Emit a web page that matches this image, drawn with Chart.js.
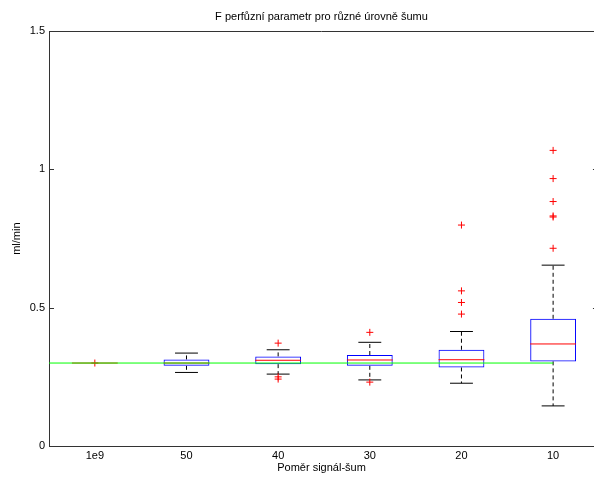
<!DOCTYPE html>
<html>
<head>
<meta charset="utf-8">
<script src="https://cdn.jsdelivr.net/npm/chart.js@4/dist/chart.umd.min.js"></script>
<style>
  html, body { margin: 0; padding: 0; background: #fff; }
  #wrap { width: 594px; height: 477px; }
</style>
</head>
<body>
<div id="wrap"><canvas id="box-chart"></canvas></div>
<script>
const categories = ['1e9', '50', '40', '30', '20', '10'];

const lowerWhisker = [0.300, 0.266, 0.260, 0.239, 0.227, 0.145];
const q1Values     = [0.300, 0.290, 0.296, 0.290, 0.284, 0.306];
const medians      = [0.300, 0.300, 0.310, 0.311, 0.312, 0.369];
const q3Values     = [0.300, 0.313, 0.324, 0.329, 0.348, 0.460];
const upperWhisker = [0.300, 0.336, 0.348, 0.375, 0.414, 0.654];
const outliers = [
    [0.300],
    [],
    [0.372, 0.250, 0.242],
    [0.411, 0.231],
    [0.799, 0.561, 0.519, 0.477],
    [1.069, 0.967, 0.884, 0.832, 0.828, 0.715]
];
const referenceValue = 0.3;
const yTicks = [0, 0.5, 1, 1.5];

Chart.defaults.font.family = '"Liberation Sans", Arial, sans-serif';
Chart.defaults.font.size = 11;
Chart.defaults.color = '#000';

const halfBox = 0.25;
const halfCap = 0.125;

// build datasets from the arrays
let boxData = categories.map((c, i) => ({ x: i + 1, y: [q1Values[i], q3Values[i]] }));

let whiskerData = [];
let capData = [];
let medianData = [];
let outlierData = [];
categories.forEach((c, i) => {
    let x = i + 1;
    if (upperWhisker[i] !== q3Values[i]) {
        whiskerData.push({ x: x, y: q3Values[i] }, { x: x, y: upperWhisker[i] }, { x: x, y: null });
        whiskerData.push({ x: x, y: q1Values[i] }, { x: x, y: lowerWhisker[i] }, { x: x, y: null });
        capData.push({ x: x - halfCap, y: upperWhisker[i] }, { x: x + halfCap, y: upperWhisker[i] }, { x: x, y: null });
        capData.push({ x: x - halfCap, y: lowerWhisker[i] }, { x: x + halfCap, y: lowerWhisker[i] }, { x: x, y: null });
    }
    medianData.push({ x: x - halfBox, y: medians[i] }, { x: x + halfBox, y: medians[i] }, { x: x, y: null });
    outliers[i].forEach(v => outlierData.push({ x: x, y: v }));
});

let referenceData = [{ x: 0, y: referenceValue }, { x: categories.length, y: referenceValue }];

const frame = {
    id: 'frame',
    afterDraw(chart) {
        const ctx = chart.ctx;
        const area = chart.chartArea;
        const xs = chart.scales.x;
        const ys = chart.scales.y;
        const rightEdge = xs.getPixelForValue(categories.length + 0.5);
        ctx.save();
        ctx.strokeStyle = '#333';
        ctx.lineWidth = 1;
        ctx.beginPath();
        ctx.moveTo(area.left, Math.round(area.top) + 0.5);
        ctx.lineTo(area.right, Math.round(area.top) + 0.5);
        yTicks.forEach(v => {
            let y = Math.round(ys.getPixelForValue(v)) + 0.5;
            ctx.moveTo(area.left, y);
            ctx.lineTo(area.left + 5, y);
            ctx.moveTo(rightEdge - 6, y);
            ctx.lineTo(rightEdge, y);
        });
        ctx.stroke();
        ctx.restore();
    }
};

const boxChart = new Chart(document.getElementById('box-chart'), {
    type: 'bar',
    data: {
        datasets: [
            {
                type: 'line',
                data: referenceData,
                borderColor: 'rgb(0, 255, 0)',
                borderWidth: 1,
                pointRadius: 0,
                order: 0
            },
            {
                type: 'line',
                data: medianData,
                borderColor: 'rgb(255, 0, 0)',
                borderWidth: 1,
                pointRadius: 0,
                spanGaps: false,
                order: 1
            },
            {
                type: 'scatter',
                data: outlierData,
                pointStyle: 'cross',
                pointRadius: 3.5,
                borderColor: 'rgb(255, 0, 0)',
                borderWidth: 1,
                order: 1
            },
            {
                type: 'bar',
                data: boxData,
                backgroundColor: 'rgba(0, 0, 0, 0)',
                borderColor: 'rgb(0, 0, 255)',
                borderWidth: 1,
                borderSkipped: false,
                barPercentage: 0.5,
                categoryPercentage: 1,
                order: 2
            },
            {
                type: 'line',
                data: whiskerData,
                borderColor: '#000',
                borderWidth: 1,
                borderDash: [4, 3],
                pointRadius: 0,
                spanGaps: false,
                order: 3
            },
            {
                type: 'line',
                data: capData,
                borderColor: '#000',
                borderWidth: 1,
                pointRadius: 0,
                spanGaps: false,
                order: 3
            }
        ]
    },
    options: {
        responsive: true,
        maintainAspectRatio: false,
        animation: false,
        layout: { padding: 0, autoPadding: false },
        scales: {
            x: {
                type: 'linear',
                offset: false,
                min: 0.5,
                max: 6.446,
                afterBuildTicks: scale => {
                    scale.ticks = categories.map((c, i) => ({ value: i + 1 }));
                },
                afterFit: scale => {
                    scale.height = 31;
                    scale.paddingLeft = 0;
                    scale.paddingRight = 0;
                },
                ticks: {
                    padding: 3,
                    autoSkip: false,
                    maxRotation: 0,
                    callback: value => categories[value - 1]
                },
                grid: { display: false, drawTicks: false, offset: false },
                border: { display: true, color: '#333', width: 1 },
                title: {
                    display: true,
                    text: 'Poměr signál-šum',
                    padding: { top: 0, bottom: 2 }
                }
            },
            y: {
                min: 0,
                max: 1.5,
                afterBuildTicks: scale => {
                    scale.ticks = yTicks.map(v => ({ value: v }));
                },
                afterFit: scale => { scale.width = 49; },
                ticks: { padding: 4, callback: value => String(value) },
                grid: { display: false, drawTicks: false },
                border: { display: true, color: '#333', width: 1 },
                title: {
                    display: true,
                    text: 'ml/min',
                    padding: { top: 10, bottom: 0 }
                }
            }
        },
        plugins: {
            legend: { display: false },
            tooltip: { enabled: false },
            title: {
                display: true,
                fullSize: false,
                text: 'F perfůzní parametr pro různé úrovně šumu',
                font: { size: 11, weight: 'normal' },
                padding: { top: 10, bottom: 8 }
            }
        }
    },
    plugins: [frame]
});
</script>
</body>
</html>
